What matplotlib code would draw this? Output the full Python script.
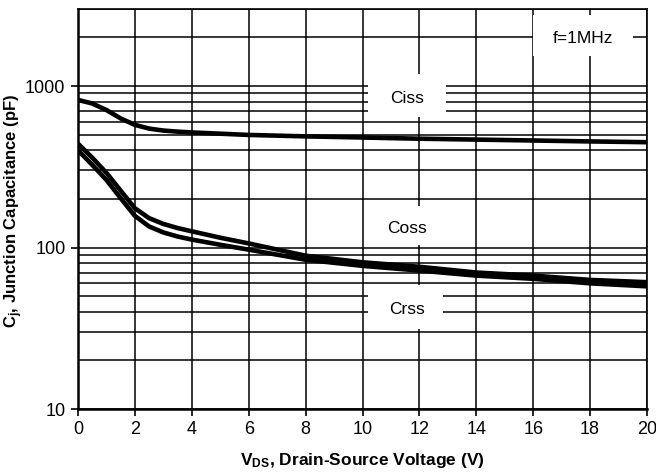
import matplotlib
matplotlib.use("Agg")
import matplotlib.pyplot as plt
from matplotlib.patches import Rectangle
from matplotlib.ticker import LogLocator, FixedLocator, NullFormatter, FixedFormatter

plt.rcParams['font.family'] = ['Liberation Sans', 'DejaVu Sans']
plt.rcParams['mathtext.fontset'] = 'custom'
plt.rcParams['mathtext.rm'] = 'Liberation Sans'
plt.rcParams['mathtext.bf'] = 'Liberation Sans:bold'
plt.rcParams['mathtext.it'] = 'Liberation Sans:italic'

# Capacitance vs drain-source voltage (pF)
vds_ciss = [0, 0.5, 1, 1.5, 2, 2.5, 3, 3.5, 4, 6, 8, 10, 12, 14, 16, 18, 20]
ciss = [820, 780, 710, 630, 575, 545, 530, 522, 516, 498, 488, 480, 472, 466, 460, 454, 449]

vds_oss = [0, 0.5, 1, 1.5, 2, 2.5, 3, 3.5, 4, 5, 6, 8, 10, 12, 14, 16, 18, 20]
coss = [440, 360, 290, 225, 175, 152, 140, 132, 126, 115, 106, 89, 81, 76, 70, 67, 63, 61]
crss = [400, 325, 262, 202, 157, 135, 124, 117, 112, 104, 97, 84, 77, 72, 67, 64, 60, 57.5]

x_ticks = [0, 2, 4, 6, 8, 10, 12, 14, 16, 18, 20]
y_ticks = [10, 100, 1000]
y_tick_labels = ['10', '100', '1000']

fig = plt.figure(figsize=(6.56, 4.74), dpi=100)
ax = fig.add_axes([78 / 656, 1 - 409 / 474, (647 - 78) / 656, (409 - 9) / 474])

ax.set_yscale('log')
ax.set_xlim(0, 20)
ax.set_ylim(10, 3000)

ax.xaxis.set_major_locator(FixedLocator(x_ticks))
ax.yaxis.set_major_locator(FixedLocator(y_ticks))
ax.yaxis.set_major_formatter(FixedFormatter(y_tick_labels))
ax.yaxis.set_minor_locator(LogLocator(base=10, subs=range(2, 10)))
ax.yaxis.set_minor_formatter(NullFormatter())

ax.grid(True, which='major', axis='both', color='black', linewidth=1.1, zorder=1)
ax.grid(True, which='minor', axis='y', color='black', linewidth=1.1, zorder=1)
ax.set_axisbelow(True)

ax.tick_params(axis='both', which='major', direction='out', length=5, width=1.2,
               labelsize=13, color='black', pad=4)
ax.tick_params(axis='y', which='minor', length=0)

for side in ['left', 'bottom']:
    ax.spines[side].set_linewidth(1.8)
for side in ['top', 'right']:
    ax.spines[side].set_linewidth(1.2)

# White label boxes that break the grid lines
def label_box(x0, x1, y0, y1, text, tx, ty):
    ax.add_patch(Rectangle((x0, y0), x1 - x0, y1 - y0, facecolor='white',
                           edgecolor='none', zorder=2))
    ax.text(tx, ty, text, ha='center', va='center', fontsize=12.5, zorder=3)

label_box(10.19, 12.94, 641, 1187, 'Ciss', 11.56, 840)
label_box(10.19, 12.94, 104.4, 182, 'Coss', 11.56, 131)
label_box(10.19, 12.84, 31.4, 58.5, 'Crss', 11.56, 41.5)
label_box(15.99, 19.51, 1535, 2761, 'f=1MHz', 17.75, 1960)

ax.plot(vds_ciss, ciss, color='black', linewidth=3.3, zorder=4,
        solid_joinstyle='round', solid_capstyle='butt')
ax.plot(vds_oss, coss, color='black', linewidth=3.3, zorder=4,
        solid_joinstyle='round', solid_capstyle='butt')
ax.plot(vds_oss, crss, color='black', linewidth=3.3, zorder=4,
        solid_joinstyle='round', solid_capstyle='butt')

ax.set_xlabel(r'V$_{\mathbf{DS}}$, Drain-Source Voltage (V)', fontsize=12.5,
              fontweight='bold')
ax.xaxis.set_label_coords(0.5, -0.105)
ax.set_ylabel(r'C$_{\mathbf{j}}$, Junction Capacitance (pF)', fontsize=12,
              fontweight='bold')
ax.yaxis.set_label_coords(-0.094, 0.495)

fig.savefig('out.png', dpi=100)
